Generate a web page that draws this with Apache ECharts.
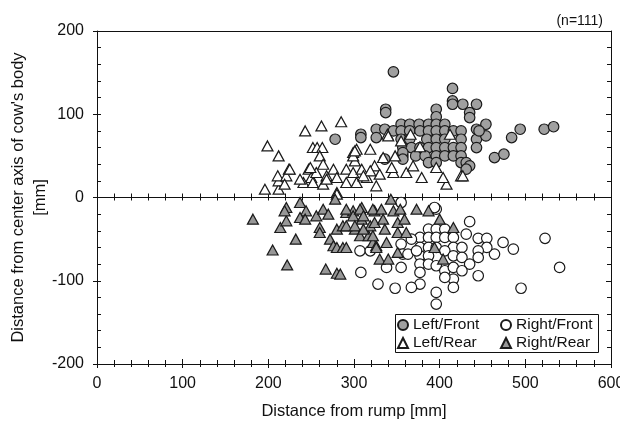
<!DOCTYPE html>
<html>
<head>
<meta charset="utf-8">
<script src="https://cdn.jsdelivr.net/npm/echarts@6/dist/echarts.min.js"></script>
<style>
  html, body { margin: 0; padding: 0; background: #fff; }
  #chart { width: 620px; height: 425px; }
</style>
</head>
<body>
<div id="chart"></div>
<script>
(function (echarts) {
    'use strict';

    // positions, [distance from rump, distance from centre axis] in mm
    const leftFront = [
        [346, 151], [415, 131], [415, 116], [415, 112], [427, 112], [435, 102], [435, 96], [443, 112],
        [337, 106], [337, 102], [396, 106], [396, 97], [278, 70], [308, 76], [308, 72], [326, 82],
        [326, 72], [336, 82],
        [355, 88], [365, 88], [376, 88], [387, 88], [396, 88], [406, 88],
        [346, 80], [355, 80], [365, 80], [377, 80], [387, 80], [396, 80], [406, 80], [416, 80], [425, 80],
        [355, 70], [365, 70], [385, 70], [396, 70], [406, 70], [425, 70],
        [357, 60], [367, 60], [377, 60], [387, 60], [396, 60], [406, 60], [416, 60], [425, 60],
        [357, 50], [372, 50], [383, 50], [396, 50], [406, 50], [416, 50], [425, 50],
        [387, 42], [396, 42], [425, 42], [431, 42], [435, 38], [431, 34],
        [443, 82], [443, 70], [443, 60],
        [454, 88], [454, 74], [446, 80], [464, 48], [475, 52], [484, 72], [494, 82], [522, 82], [533, 85],
        [357, 54], [357, 46], [336, 46]
    ];

    const rightFront = [
        [396, -14], [435, -29], [387, -38], [396, -38], [406, -38], [431, -44],
        [377, -48], [387, -48], [396, -48], [406, -48], [416, -48], [367, -50], [355, -56],
        [445, -49], [455, -49], [474, -54], [486, -62], [464, -68], [455, -60], [445, -64], [445, -72],
        [523, -49], [377, -60], [387, -60], [396, -60], [416, -60], [426, -60],
        [377, -70], [387, -70], [406, -64], [416, -70], [426, -72], [435, -80],
        [377, -80], [387, -80], [396, -82], [406, -88], [416, -84], [426, -88],
        [377, -90], [416, -98], [416, -108], [406, -96], [445, -94],
        [396, -114], [396, -128],
        [377, -104], [367, -108], [348, -109], [328, -104], [308, -90], [338, -84], [355, -84],
        [307, -64], [319, -64], [357, -68], [363, -68], [373, -64],
        [495, -109], [355, -6], [540, -84], [394, -12]
    ];

    const leftRear = [
        [196, 10], [199, 62], [212, 50], [212, 10], [212, 20], [211, 26], [221, 26], [224, 34],
        [243, 80], [262, 86], [285, 91], [252, 60], [257, 60], [263, 60], [260, 50], [247, 34],
        [250, 24], [241, 18], [252, 18], [264, 40], [268, 26], [276, 34], [280, 24], [291, 34],
        [299, 54], [301, 44], [299, 30], [309, 34], [315, 24], [319, 58], [324, 38], [280, 6],
        [264, 16], [291, 18], [303, 18], [326, 14],
        [303, 58], [299, 50], [339, 76], [366, 76], [412, 76], [355, 68], [377, 61], [348, 50],
        [361, 30], [369, 38], [379, 24], [396, 36], [408, 16], [425, 26], [346, 30], [330, 28],
        [319, 32], [311, 26], [268, 22], [256, 30], [249, 36], [237, 22], [225, 34], [219, 16],
        [340, 74], [404, 24], [427, 26], [334, 48], [344, 36], [301, 56], [280, 4]
    ];

    const rightRear = [
        [182, -26], [205, -63], [222, -81], [232, -50], [214, -36], [221, -28], [221, -12], [219, -16],
        [237, -6], [244, -16], [237, -24], [243, -26],
        [256, -22], [264, -14], [270, -20], [260, -36], [260, -42], [272, -50], [276, -58], [280, -60],
        [287, -60], [280, -38], [287, -34], [291, -18], [299, -16], [309, -12], [309, -26], [301, -38],
        [307, -46], [317, -46], [319, -34], [324, -16], [322, -54], [326, -58], [267, -86], [280, -91],
        [291, -14], [299, -22], [307, -14], [311, -22], [291, -34], [301, -34], [311, -38], [322, -14],
        [324, -30], [322, -46], [332, -14], [334, -26], [336, -38], [338, -54], [346, -16], [351, -30],
        [354, -14], [359, -26], [351, -42], [361, -42], [373, -14], [387, -16], [400, -26], [416, -36],
        [394, -60], [404, -74], [351, -66], [330, -74], [340, -74], [326, -60], [291, -60], [284, -92],
        [278, -2], [343, -2]
    ];

    const xTicks = [0, 100, 200, 300, 400, 500, 600];
    const yTicks = [-200, -100, 0, 100, 200];

    const font = 'Liberation Sans, Arial, sans-serif';
    const black = '#111';

    const axisBase = function (extra) {
        return Object.assign({
            type: 'value',
            splitLine: {show: false},
            axisLine: {show: false, onZero: false},
            axisTick: {show: false},
            axisLabel: {show: false},
            minorTick: {show: false}
        }, extra);
    };

    const xRange = {min: xTicks[0], max: xTicks[xTicks.length - 1], interval: 100};
    const yRange = {min: yTicks[0], max: yTicks[yTicks.length - 1], interval: 100};

    const xAxes = [
        // bottom axis with labels, ticks inward
        axisBase(Object.assign({}, xRange, {
            position: 'bottom',
            name: 'Distance from rump [mm]',
            nameLocation: 'middle',
            nameGap: 39,
            nameMoveOverlap: false,
            nameTextStyle: {fontFamily: font, fontSize: 16.5, color: black},
            axisLine: {show: true, onZero: false, lineStyle: {color: black, width: 1}},
            axisTick: {show: true, inside: true, length: 5, lineStyle: {color: black}},
            minorTick: {show: true, splitNumber: 5, length: 4, lineStyle: {color: black}},
            axisLabel: {show: true, fontFamily: font, fontSize: 16, color: black, margin: 12}
        })),
        // bottom axis, outward half of the crossing ticks
        axisBase(Object.assign({}, xRange, {
            position: 'bottom',
            axisTick: {show: true, inside: false, length: 4, lineStyle: {color: black}},
            minorTick: {show: true, splitNumber: 5, length: 3, lineStyle: {color: black}}
        })),
        // line at y = 0 with crossing ticks
        axisBase(Object.assign({}, xRange, {
            position: 'bottom',
            axisLine: {show: true, onZero: true, onZeroAxisIndex: 0, lineStyle: {color: black, width: 1}},
            axisTick: {show: true, inside: true, length: 4, lineStyle: {color: black}},
            minorTick: {show: true, splitNumber: 5, length: 4, lineStyle: {color: black}}
        })),
        axisBase(Object.assign({}, xRange, {
            position: 'bottom',
            axisLine: {show: false, onZero: true, onZeroAxisIndex: 0},
            axisTick: {show: true, inside: false, length: 3, lineStyle: {color: black}},
            minorTick: {show: true, splitNumber: 5, length: 3, lineStyle: {color: black}}
        })),
        // top border
        axisBase(Object.assign({}, xRange, {
            position: 'top',
            axisLine: {show: true, onZero: false, lineStyle: {color: black, width: 1}}
        }))
    ];

    const yAxes = [
        axisBase(Object.assign({}, yRange, {
            position: 'left',
            name: 'Distance from center axis of cow\'s body\n[mm]',
            nameLocation: 'middle',
            nameGap: 46,
            nameMoveOverlap: false,
            nameTextStyle: {fontFamily: font, fontSize: 16.5, color: black, lineHeight: 22},
            axisLine: {show: true, onZero: false, lineStyle: {color: black, width: 1}},
            axisTick: {show: true, inside: false, length: 4, lineStyle: {color: black}},
            axisLabel: {show: true, fontFamily: font, fontSize: 16, color: black, margin: 13}
        })),
        axisBase(Object.assign({}, yRange, {
            position: 'left',
            axisTick: {show: true, inside: true, length: 4, lineStyle: {color: black}},
            minorTick: {show: true, splitNumber: 5, length: 4, lineStyle: {color: black}}
        })),
        axisBase(Object.assign({}, yRange, {
            position: 'right',
            axisLine: {show: true, onZero: false, lineStyle: {color: black, width: 1}},
            axisTick: {show: true, inside: true, length: 5, lineStyle: {color: black}},
            minorTick: {show: true, splitNumber: 5, length: 4, lineStyle: {color: black}}
        }))
    ];

    const scatter = function (name, data, symbol, fill) {
        return {
            name: name,
            type: 'scatter',
            data: data,
            symbol: symbol,
            symbolSize: symbol === 'circle' ? 10.5 : [11, 10],
            itemStyle: {color: fill, borderColor: '#1a1a1a', borderWidth: 1.2, opacity: 1},
            emphasis: {disabled: true},
            animation: false
        };
    };

    const legendText = {fontFamily: font, fontSize: 15.5, color: black, lineHeight: 18};

    const legendBase = {
        orient: 'vertical',
        top: 316,
        itemWidth: 10, itemHeight: 10, itemGap: 0,
        padding: 0,
        textStyle: legendText,
        selectedMode: false,
        z: 10
    };

    const option = {
        backgroundColor: '#fff',
        animation: false,
        grid: {left: 97, right: 9, top: 31, bottom: 61, containLabel: false, outerBoundsMode: 'none'},
        title: {
            text: '(n=111)',
            right: 12,
            top: 9,
            textStyle: {fontFamily: font, fontSize: 14, fontWeight: 'normal', color: black}
        },
        xAxis: xAxes,
        yAxis: yAxes,
        legend: [
            Object.assign({data: ['Left/Front', 'Left/Rear'], left: 397}, legendBase),
            Object.assign({data: ['Right/Front', 'Right/Rear'], left: 500}, legendBase)
        ],
        graphic: [{
            type: 'rect',
            left: 395, top: 314,
            shape: {width: 203, height: 38},
            style: {fill: '#fff', stroke: black, lineWidth: 1},
            z: 1
        }],
        series: [
            scatter('Left/Front', leftFront, 'circle', '#a0a0a0'),
            scatter('Right/Front', rightFront, 'circle', '#ffffff'),
            scatter('Left/Rear', leftRear, 'triangle', '#ffffff'),
            scatter('Right/Rear', rightRear, 'triangle', '#979797')
        ]
    };

    const handle = echarts.init(document.getElementById('chart'), null, {renderer: 'canvas'});
    handle.setOption(option);

})(echarts);
</script>
</body>
</html>
